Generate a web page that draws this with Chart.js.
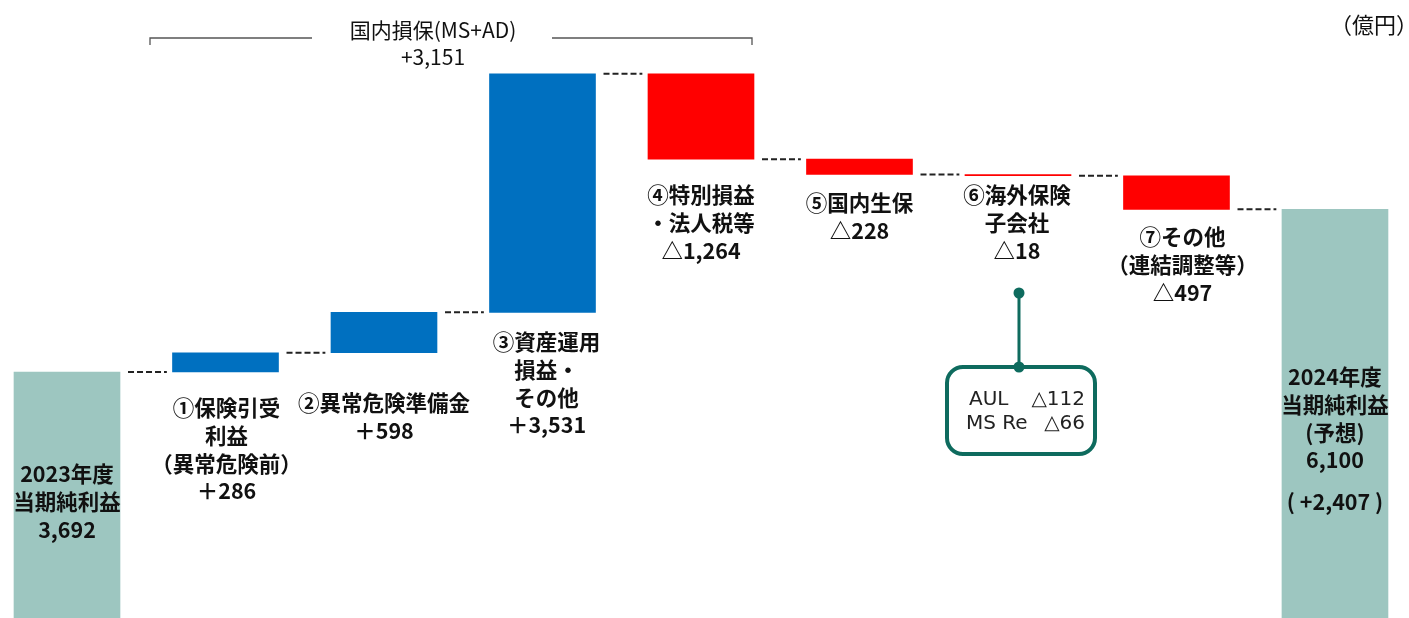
<!DOCTYPE html>
<html lang="ja">
<head>
    <meta charset="UTF-8">
    <title>当期純利益 増減要因</title>
    <script src="https://cdn.jsdelivr.net/npm/chart.js"></script>
    <style>
        body { margin: 0; background: #fff; }
        #wrap { width: 1409px; height: 618px; position: relative; }
    </style>
</head>
<body>
    <div id="wrap"><canvas id="grafico"></canvas></div>

    <script>
        // dados do gráfico (億円)
        const categorias = ['2023年度', '①保険引受利益', '②異常危険準備金', '③資産運用損益・その他',
            '④特別損益・法人税等', '⑤国内生保', '⑥海外保険子会社', '⑦その他', '2024年度'];
        const valorInicial = 3692;
        const variacoes = [286, 598, 3531, -1264, -228, -18, -497];
        const valorFinal = 6100;

        const rotulos = [
            ['2023年度', '当期純利益', '3,692'],
            ['①保険引受', '利益', '（異常危険前）', '＋286'],
            ['②異常危険準備金', '＋598'],
            ['③資産運用', '損益・', 'その他', '＋3,531'],
            ['④特別損益', '・法人税等', '△1,264'],
            ['⑤国内生保', '△228'],
            ['⑥海外保険', '子会社', '△18'],
            ['⑦その他', '（連結調整等）', '△497'],
            ['2024年度', '当期純利益', '(予想)', '6,100']
        ];
        const rotuloY = [474, 408, 403, 342, 195, 203, 195, 237, 377];
        const rotuloDx = [0, 1, 0, 4, 0, 0, -1, 6, 0];
        const diferencaTotal = '( +2,407 )';
        const subsidiarias = ['AUL', 'MS Re'];
        const subsidiariasValores = ['△112', '△66'];

        const corTotal = '#9DC6C0';
        const corPositivo = '#0070C0';
        const corNegativo = '#FF0000';
        const verde = '#0E6B5E';

        // monta as barras flutuantes
        const barras = [];
        const cores = [];
        const niveis = [];
        let acumulado = valorInicial;
        barras.push({ x: 0, y: [0, valorInicial] });
        cores.push(corTotal);
        niveis.push(acumulado);
        variacoes.forEach(function(v, i) {
            barras.push({ x: i + 1, y: [acumulado, acumulado + v] });
            cores.push(v >= 0 ? corPositivo : corNegativo);
            acumulado += v;
            niveis.push(acumulado);
        });
        barras.push({ x: categorias.length - 1, y: [0, valorFinal] });
        cores.push(corTotal);

        // linhas tracejadas entre as barras
        const conectores = [];
        for (let i = 0; i < categorias.length - 1; i++) {
            conectores.push({ x: i + 0.385, y: niveis[i] });
            conectores.push({ x: i + 0.63, y: niveis[i] });
            conectores.push({ x: i + 0.7, y: null });
        }

        const plugin = {
            id: 'anotacoes',
            afterDraw(chart) {
                const ctx = chart.ctx;
                const xs = chart.scales.x;
                ctx.save();
                ctx.fillStyle = '#111';
                ctx.textAlign = 'center';
                ctx.textBaseline = 'middle';

                ctx.font = 'bold 21.5px "Noto Sans CJK JP"';
                rotulos.forEach(function(linhas, i) {
                    const cx = xs.getPixelForValue(i) + rotuloDx[i];
                    linhas.forEach(function(t, k) {
                        ctx.fillText(t, cx, rotuloY[i] + k * 27.7);
                    });
                });
                ctx.fillText(diferencaTotal, xs.getPixelForValue(8), 502);

                // colchete do 国内損保
                ctx.strokeStyle = '#555';
                ctx.lineWidth = 1.3;
                ctx.beginPath();
                ctx.moveTo(150, 45); ctx.lineTo(150, 38); ctx.lineTo(312, 38);
                ctx.moveTo(552, 38); ctx.lineTo(752, 38); ctx.lineTo(752, 45);
                ctx.stroke();
                ctx.font = '21px "Noto Sans CJK JP"';
                ctx.fillText('国内損保(MS+AD)', 433, 30);
                ctx.fillText('+3,151', 433, 57);

                ctx.font = '22px "Noto Sans CJK JP"';
                ctx.fillText('（億円）', 1374, 25);

                // caixa AUL / MS Re
                const px = xs.getPixelForValue(6) + 1;
                ctx.strokeStyle = verde;
                ctx.fillStyle = verde;
                ctx.lineWidth = 3;
                ctx.beginPath();
                ctx.moveTo(px, 293); ctx.lineTo(px, 366);
                ctx.stroke();
                ctx.beginPath(); ctx.arc(px, 293, 5.5, 0, Math.PI * 2); ctx.fill();
                ctx.lineWidth = 4;
                ctx.beginPath();
                ctx.roundRect(947, 367, 148, 87, 16);
                ctx.stroke();
                ctx.beginPath(); ctx.arc(px, 367, 5.5, 0, Math.PI * 2); ctx.fill();

                ctx.fillStyle = '#222';
                ctx.font = '20px "DejaVu Sans"';
                subsidiarias.forEach(function(nome, k) {
                    ctx.textAlign = 'left';
                    ctx.fillText(nome, k === 0 ? 969 : 966, 400 + k * 24);
                    ctx.textAlign = 'right';
                    ctx.fillText(subsidiariasValores[k], 1085, 400 + k * 24);
                });
                ctx.restore();
            }
        };

        new Chart(document.getElementById('grafico'), {
            type: 'bar',
            data: {
                datasets: [{
                    type: 'line',
                    data: conectores,
                    borderColor: '#222',
                    borderWidth: 2,
                    borderDash: [6, 3],
                    pointRadius: 0,
                    spanGaps: false,
                    order: 0
                }, {
                    data: barras,
                    backgroundColor: cores,
                    borderWidth: 0,
                    barThickness: 106,
                    order: 1
                }]
            },
            options: {
                responsive: true,
                maintainAspectRatio: false,
                animation: false,
                layout: { padding: 0 },
                plugins: { legend: { display: false }, tooltip: { enabled: false } },
                scales: {
                    x: { type: 'linear', display: false, offset: false, min: -0.4227, max: 8.467 },
                    y: { display: false, min: 52, max: 9198 }
                }
            },
            plugins: [plugin]
        });
    </script>
</body>
</html>
